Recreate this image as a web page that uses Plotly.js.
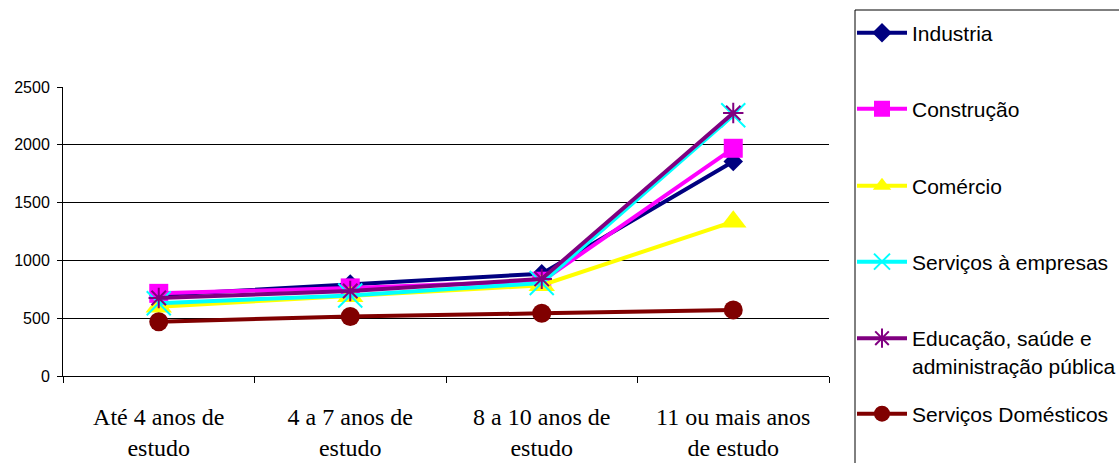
<!DOCTYPE html>
<html>
<head>
<meta charset="utf-8">
<script src="https://cdn.plot.ly/plotly-3.0.1.min.js"></script>
<style>
  html, body { margin: 0; padding: 0; background: #fff; }
  #chart { width: 1119px; height: 463px; }
</style>
</head>
<body>
<div id="chart"></div>
<script>
// Rendimento médio por faixa de escolaridade e setor de atividade
const categories = [
  'Até 4 anos de<br>estudo',
  '4 a 7 anos de<br>estudo',
  '8 a 10 anos de<br>estudo',
  '11 ou mais anos<br>de estudo'
];

const industria   = [700, 795, 885, 1855];
const construcao  = [715, 762, 820, 1970];
const comercio    = [600, 690, 785, 1335];
const servEmpresas = [630, 697, 805, 2255];
const educacao    = [675, 735, 840, 2275];
const domesticos  = [470, 515, 542, 572];

const seriesNames = [
  'Industria',
  'Construção',
  'Comércio',
  'Serviços à empresas',
  'Educação, saúde e<br>administração pública',
  'Serviços Domésticos'
];

const yTicks = [0, 500, 1000, 1500, 2000, 2500];

const styles = [
  { color: '#000080', symbol: 'diamond', size: 15 },
  { color: '#FF00FF', symbol: 'square', size: 19 },
  { color: '#FFFF00', symbol: 'triangle-up', size: 23 },
  { color: '#00FFFF', symbol: 'x-thin-open', size: 24, thin: true },
  { color: '#800080', symbol: 'asterisk-open', size: 17, thin: true },
  { color: '#800000', symbol: 'circle', size: 19 }
];

const values = [industria, construcao, comercio, servEmpresas, educacao, domesticos];
const legendIds = ['legend', 'legend2', 'legend3', 'legend4', 'legend5', 'legend6'];

const traces = values.map((v, i) => {
  const s = styles[i];
  return {
    type: 'scatter',
    mode: 'lines+markers',
    name: seriesNames[i],
    x: categories,
    y: v,
    legend: legendIds[i],
    line: { color: s.color, width: 4 },
    marker: {
      symbol: s.symbol,
      size: s.size,
      color: s.color,
      line: s.thin ? { color: s.color, width: 2 } : { width: 0 }
    },
    hoverinfo: 'x+y+name'
  };
});

// one single-entry legend per series, stacked down the right side
const legendCenters = [33, 109, 186, 262, 339, 414];
const H = 463, W = 1119;
const legendFont = { family: 'Liberation Sans, Arial, sans-serif', size: 21, color: '#000' };

const layout = {
  width: W,
  height: H,
  margin: { l: 63, r: 290, t: 87, b: 87, autoexpand: false },
  paper_bgcolor: '#fff',
  plot_bgcolor: '#fff',
  showlegend: true,
  xaxis: {
    type: 'category',
    range: [-0.5, categories.length - 0.5],
    tickson: 'boundaries',
    ticks: 'outside',
    ticklen: 6,
    tickcolor: '#000',
    tickwidth: 1,
    showline: true,
    linecolor: '#000',
    linewidth: 1,
    showgrid: false,
    zeroline: false,
    ticklabelstandoff: 19,
    tickfont: { family: 'Liberation Serif, Times New Roman, serif', size: 24, color: '#000' },
    fixedrange: true
  },
  yaxis: {
    range: [0, 2500],
    tickvals: yTicks,
    ticktext: yTicks.map(String),
    ticks: 'outside',
    ticklen: 5,
    tickcolor: '#000',
    showline: true,
    linecolor: '#000',
    linewidth: 1,
    showgrid: true,
    gridcolor: '#000',
    gridwidth: 1,
    zeroline: false,
    ticklabelstandoff: 4,
    tickfont: { family: 'Liberation Sans, Arial, sans-serif', size: 16, color: '#000' },
    fixedrange: true
  },
  shapes: [
    {
      type: 'rect',
      xref: 'paper', yref: 'paper',
      x0: (855 - 63) / 766, x1: (1140 - 63) / 766,
      y0: (376 - 490) / 289, y1: (376 - 10) / 289,
      line: { color: '#000', width: 1 },
      fillcolor: 'rgba(0,0,0,0)'
    }
  ]
};

legendIds.forEach((id, i) => {
  layout[id] = {
    xref: 'container', yref: 'container',
    x: 852 / W,
    y: 1 - legendCenters[i] / H,
    xanchor: 'left',
    yanchor: i === 4 ? 'top' : 'middle',
    valign: 'top',
    bgcolor: 'rgba(0,0,0,0)',
    borderwidth: 0,
    itemwidth: 50,
    font: legendFont,
    maxheight: 2000
  };
});
// the two-line entry is anchored by its top edge
layout.legend5.y = 1 - (legendCenters[4] - 21) / H;

Plotly.newPlot('chart', traces, layout, { staticPlot: true, displayModeBar: false });
</script>
</body>
</html>
